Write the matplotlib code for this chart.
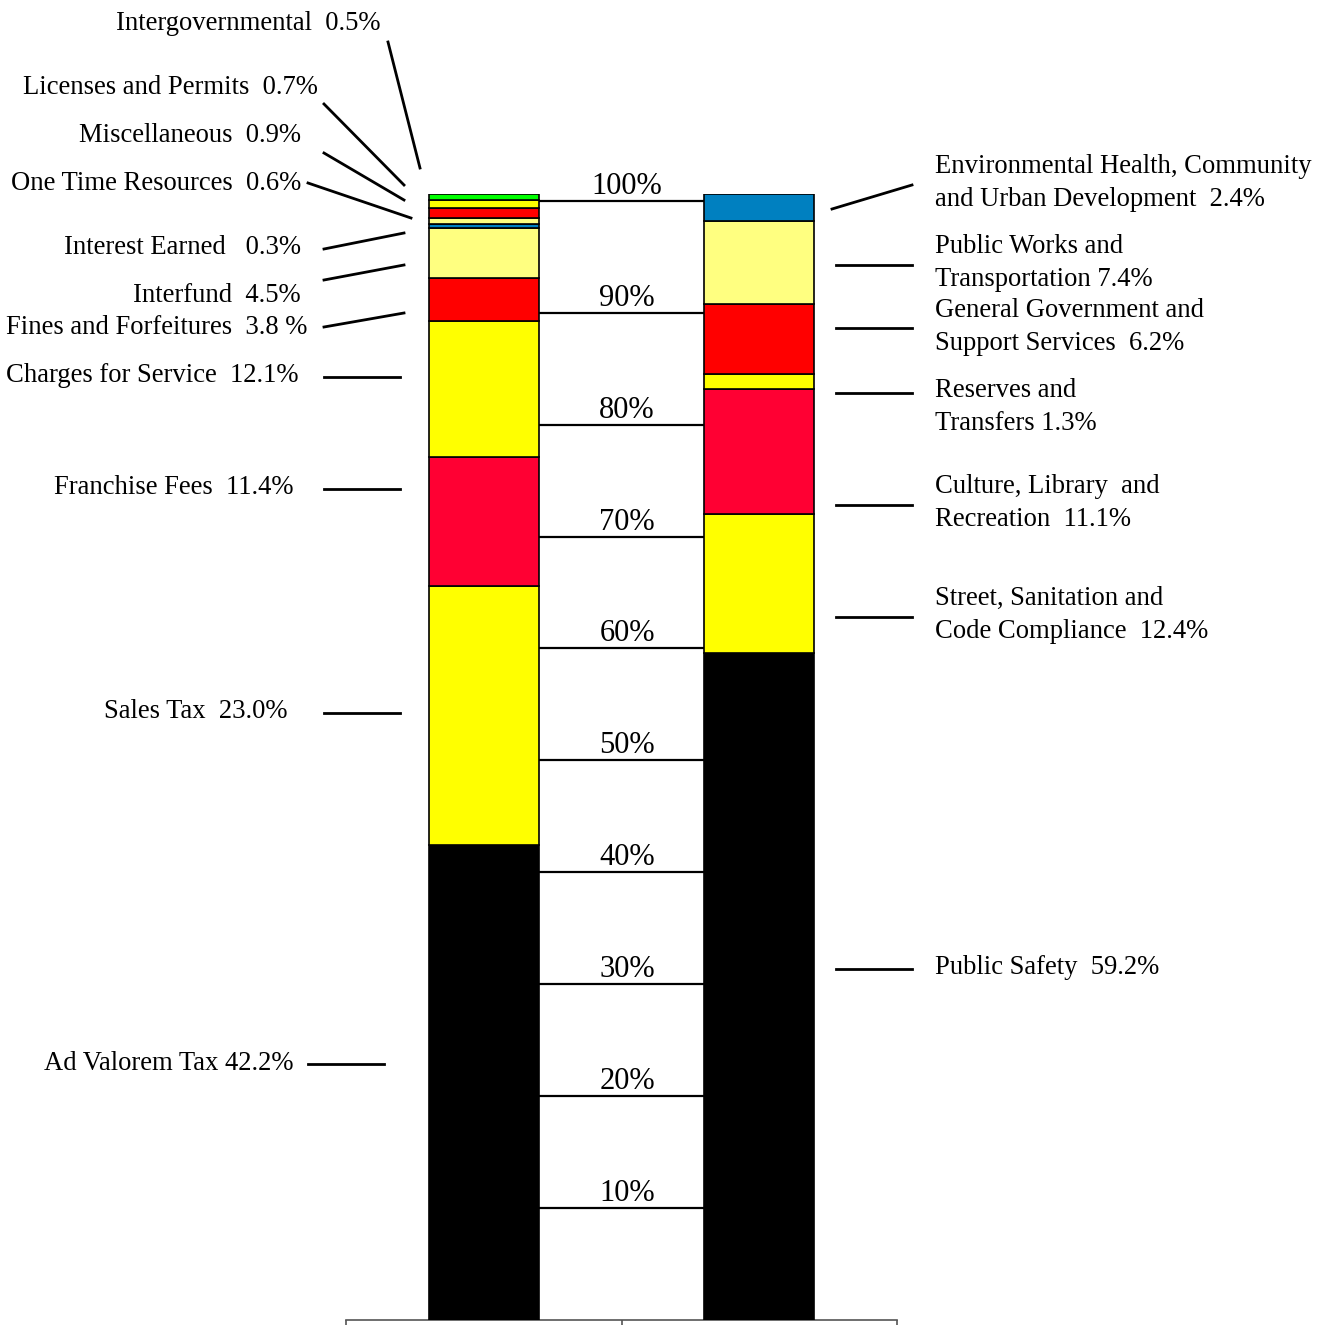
import matplotlib
matplotlib.use("Agg")
import matplotlib.pyplot as plt
from matplotlib.lines import Line2D

# ---------------- data ----------------
rev_labels = ["Ad Valorem Tax 42.2%", "Sales Tax  23.0%", "Franchise Fees  11.4%",
              "Charges for Service  12.1%", "Fines and Forfeitures  3.8 %", "Interfund  4.5%",
              "Interest Earned   0.3%", "One Time Resources  0.6%", "Miscellaneous  0.9%",
              "Licenses and Permits  0.7%", "Intergovernmental  0.5%"]
rev_values = [42.2, 23.0, 11.4, 12.1, 3.8, 4.5, 0.3, 0.6, 0.9, 0.7, 0.5]
rev_colors = ["#000000", "#FFFF00", "#FF0033", "#FFFF00", "#FF0000", "#FFFF80",
              "#0080C0", "#FFFF80", "#FF0000", "#FFFF00", "#00FF00"]

exp_labels = ["Public Safety  59.2%", "Street, Sanitation and\nCode Compliance  12.4%",
              "Culture, Library  and\nRecreation  11.1%", "Reserves and\nTransfers 1.3%",
              "General Government and\nSupport Services  6.2%", "Public Works and\nTransportation 7.4%",
              "Environmental Health, Community\nand Urban Development  2.4%"]
exp_values = [59.2, 12.4, 11.1, 1.3, 6.2, 7.4, 2.4]
exp_colors = ["#000000", "#FFFF00", "#FF0033", "#FFFF00", "#FF0000", "#FFFF80", "#0080C0"]

grid_levels = [10, 20, 30, 40, 50, 60, 70, 80, 90, 100]
grid_scale = 0.994

# ---------------- layout (pixel coords of the 1332x1325 canvas) ----------------
W, H = 1332, 1325
rev_text = [(293, 1063), (287, 711), (294, 487), (299, 376), (307, 328), (301, 295),
            (301, 247), (301, 183), (301, 135), (318, 87), (381, 23)]
rev_lead = [((308, 1064), (384, 1064)), ((324, 713), (400, 713)), ((324, 489), (400, 489)),
            ((324, 377), (400, 377)), ((324, 327), (404, 313)), ((324, 280), (404, 265)),
            ((324, 249), (404, 233)), ((308, 183), (411, 218)), ((324, 153), (404, 200)),
            ((324, 104), (404, 185)), ((388, 42), (420, 168))]
exp_text = [(935, 967), (935, 615), (935, 503), (935, 407), (935, 327), (935, 263), (935, 183)]
exp_lead = [((836, 969), (912, 969)), ((836, 617), (912, 617)), ((836, 505), (912, 505)),
            ((836, 393), (912, 393)), ((836, 328), (912, 328)), ((836, 265), (912, 265)),
            ((832, 209), (912, 185))]

plt.rcParams['font.family'] = ['Liberation Serif', 'DejaVu Serif']
FS = 19.2
GFS = 22

fig = plt.figure(figsize=(W / 100, H / 100), dpi=100)
ax = fig.add_axes([346 / W, (H - 1320) / H, (897 - 346) / W, (1320 - 194) / H])

width = 0.4
for xpos, vals, cols in [(0, rev_values, rev_colors), (1, exp_values, exp_colors)]:
    bottom = 0
    for v, c in zip(vals, cols):
        ax.bar(xpos, v, width=width, bottom=bottom, color=c, edgecolor="black",
               linewidth=1.2, zorder=3)
        bottom += v

for g in grid_levels:
    yv = g * grid_scale
    ax.plot([width / 2, 1 - width / 2], [yv, yv], color="black", lw=1.6, zorder=2,
            solid_capstyle="butt")
    ax.annotate(f"{g}%", (0.52, yv), xytext=(0, 0), textcoords="offset points",
                ha="center", va="bottom", fontsize=GFS)

ax.set_xlim(-0.5, 1.5)
ax.set_ylim(0, 100)
for s in ["top", "left", "right"]:
    ax.spines[s].set_visible(False)
ax.spines["bottom"].set_color("#555555")
ax.spines["bottom"].set_linewidth(1.2)
ax.set_yticks([])
ax.set_xticks([-0.5, 0.5, 1.5])
ax.set_xticklabels([])
ax.tick_params(axis="x", direction="out", length=5, color="#555555", width=1.2)

def fx(px):
    return px / W

def fy(py):
    return 1 - py / H

for lab, (tx, ty), ((x0, y0), (x1, y1)) in zip(rev_labels, rev_text, rev_lead):
    fig.text(fx(tx), fy(ty), lab, ha="right", va="center", fontsize=FS)
    fig.add_artist(Line2D([fx(x0), fx(x1)], [fy(y0), fy(y1)], color="black", lw=2,
                          transform=fig.transFigure))

for lab, (tx, ty), ((x0, y0), (x1, y1)) in zip(exp_labels, exp_text, exp_lead):
    fig.text(fx(tx), fy(ty), lab, ha="left", va="center", fontsize=FS, linespacing=1.42)
    fig.add_artist(Line2D([fx(x0), fx(x1)], [fy(y0), fy(y1)], color="black", lw=2,
                          transform=fig.transFigure))

fig.savefig("out.png", dpi=100)
